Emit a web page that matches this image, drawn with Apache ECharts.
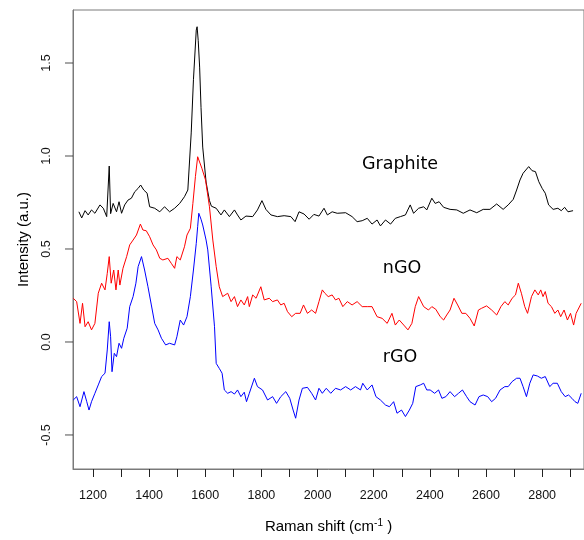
<!DOCTYPE html>
<html>
<head>
<meta charset="utf-8">
<script src="https://cdn.jsdelivr.net/npm/echarts@6/dist/echarts.min.js"></script>
<style>
  html, body { margin: 0; padding: 0; background: #fff; }
  #chart { width: 584px; height: 540px; }
</style>
</head>
<body>
<div id="chart"></div>
<script>
// Raman spectra, [shift (cm-1), intensity (a.u.)]
var graphite = [
  [1150,0.70],[1160,0.667],[1172,0.706],[1183,0.683],[1195,0.71],[1207,0.692],[1225,0.737],[1237,0.719],
  [1249,0.674],[1258,0.946],[1263,0.69],[1272,0.745],[1284,0.70],[1293,0.754],[1302,0.692],[1313,0.737],
  [1325,0.763],[1337,0.773],[1349,0.808],[1361,0.826],[1370,0.844],[1381,0.817],[1393,0.80],[1402,0.727],
  [1420,0.719],[1438,0.70],[1455,0.727],[1473,0.70],[1491,0.719],[1509,0.745],[1526,0.781],[1538,0.817],
  [1550,1.124],[1558,1.41],[1568,1.677],[1571,1.695],[1575,1.62],[1580,1.478],[1585,1.26],[1591,1.048],
  [1603,0.86],[1608,0.817],[1615,0.76],[1622,0.73],[1639,0.719],[1656,0.683],[1668,0.71],[1686,0.674],
  [1704,0.71],[1715,0.683],[1727,0.656],[1745,0.677],[1769,0.674],[1786,0.71],[1802,0.76],[1816,0.713],
  [1834,0.683],[1857,0.674],[1881,0.679],[1905,0.674],[1920,0.647],[1934,0.70],[1952,0.688],[1970,0.66],
  [1987,0.686],[2005,0.677],[2023,0.719],[2035,0.683],[2052,0.70],[2070,0.692],[2100,0.695],[2123,0.674],
  [2141,0.647],[2159,0.652],[2177,0.665],[2194,0.634],[2212,0.656],[2224,0.624],[2242,0.656],[2260,0.634],
  [2277,0.665],[2295,0.674],[2313,0.683],[2330,0.737],[2342,0.692],[2360,0.719],[2378,0.727],[2389,0.71],
  [2407,0.773],[2419,0.745],[2433,0.754],[2449,0.724],[2472,0.713],[2496,0.71],[2519,0.692],[2543,0.71],
  [2567,0.695],[2590,0.713],[2614,0.713],[2638,0.742],[2661,0.713],[2679,0.737],[2697,0.767],[2709,0.817],
  [2721,0.871],[2732,0.907],[2752,0.943],[2764,0.921],[2776,0.916],[2788,0.862],[2800,0.826],[2811,0.80],
  [2823,0.737],[2839,0.713],[2856,0.719],[2868,0.706],[2880,0.724],[2892,0.70],[2910,0.706]
];

var nGO = [
  [1130,0.235],[1142,0.217],[1154,0.10],[1163,0.208],[1172,0.082],[1183,0.109],[1195,0.065],[1207,0.10],
  [1219,0.262],[1231,0.316],[1243,0.28],[1251,0.369],[1258,0.459],[1265,0.316],[1274,0.387],[1282,0.28],
  [1290,0.387],[1296,0.306],[1307,0.396],[1320,0.459],[1331,0.522],[1343,0.548],[1355,0.575],[1369,0.634],
  [1378,0.602],[1390,0.598],[1402,0.566],[1414,0.522],[1426,0.495],[1438,0.45],[1449,0.441],[1467,0.45],
  [1479,0.423],[1491,0.396],[1499,0.459],[1511,0.441],[1526,0.512],[1535,0.575],[1547,0.611],[1556,0.745],
  [1565,0.889],[1573,0.996],[1576,0.99],[1588,0.934],[1591,0.925],[1601,0.871],[1615,0.727],[1627,0.548],
  [1639,0.405],[1650,0.297],[1662,0.244],[1680,0.262],[1692,0.217],[1704,0.244],[1715,0.19],[1727,0.226],
  [1739,0.199],[1751,0.244],[1757,0.19],[1769,0.253],[1781,0.235],[1798,0.297],[1810,0.226],[1828,0.235],
  [1840,0.217],[1857,0.226],[1869,0.199],[1881,0.208],[1893,0.163],[1908,0.136],[1922,0.154],[1938,0.154],
  [1950,0.199],[1964,0.154],[1979,0.172],[1993,0.154],[2005,0.217],[2017,0.28],[2026,0.262],[2038,0.244],
  [2052,0.253],[2064,0.226],[2076,0.235],[2090,0.19],[2106,0.217],[2123,0.199],[2141,0.217],[2159,0.19],
  [2177,0.19],[2194,0.19],[2212,0.136],[2230,0.127],[2248,0.10],[2265,0.154],[2277,0.091],[2291,0.118],
  [2307,0.091],[2322,0.065],[2336,0.10],[2348,0.19],[2360,0.244],[2366,0.244],[2378,0.19],[2395,0.172],
  [2407,0.19],[2421,0.176],[2437,0.136],[2449,0.118],[2460,0.145],[2472,0.172],[2486,0.235],[2499,0.199],
  [2514,0.154],[2528,0.154],[2543,0.127],[2558,0.086],[2573,0.172],[2584,0.181],[2602,0.194],[2620,0.172],
  [2638,0.145],[2653,0.19],[2667,0.217],[2679,0.199],[2693,0.235],[2705,0.253],[2715,0.316],[2726,0.262],
  [2738,0.19],[2748,0.154],[2762,0.244],[2774,0.28],[2786,0.253],[2795,0.28],[2803,0.244],[2811,0.271],
  [2821,0.208],[2833,0.19],[2845,0.154],[2856,0.172],[2866,0.136],[2878,0.172],[2890,0.118],[2901,0.154],
  [2912,0.091],[2921,0.154],[2939,0.208]
];

var rGO = [
  [1130,-0.312],[1142,-0.294],[1154,-0.348],[1168,-0.267],[1178,-0.321],[1186,-0.366],[1195,-0.321],[1207,-0.276],
  [1219,-0.231],[1231,-0.186],[1243,-0.168],[1251,-0.043],[1258,0.109],[1263,0.028],[1268,-0.16],[1276,-0.061],
  [1284,-0.079],[1293,-0.007],[1302,-0.034],[1310,0.02],[1322,0.074],[1331,0.19],[1343,0.244],[1353,0.316],
  [1361,0.405],[1373,0.459],[1384,0.387],[1396,0.297],[1408,0.199],[1420,0.10],[1432,0.065],[1444,0.02],
  [1459,-0.016],[1473,-0.007],[1491,-0.016],[1499,0.028],[1511,0.118],[1523,0.091],[1535,0.136],[1547,0.244],
  [1558,0.387],[1568,0.53],[1573,0.62],[1577,0.692],[1585,0.66],[1591,0.629],[1603,0.548],[1609,0.495],
  [1621,0.30],[1633,0.082],[1639,-0.115],[1650,-0.142],[1660,-0.168],[1668,-0.258],[1680,-0.276],[1692,-0.267],
  [1704,-0.28],[1715,-0.258],[1727,-0.294],[1739,-0.27],[1747,-0.321],[1757,-0.276],[1775,-0.195],[1786,-0.24],
  [1804,-0.258],[1822,-0.312],[1840,-0.294],[1854,-0.33],[1869,-0.294],[1887,-0.267],[1901,-0.303],[1913,-0.366],
  [1922,-0.41],[1934,-0.312],[1946,-0.249],[1964,-0.244],[1979,-0.276],[1993,-0.312],[2005,-0.249],[2017,-0.276],
  [2031,-0.249],[2047,-0.276],[2064,-0.249],[2082,-0.258],[2100,-0.24],[2118,-0.258],[2135,-0.24],[2153,-0.258],
  [2161,-0.222],[2177,-0.258],[2194,-0.231],[2208,-0.294],[2224,-0.312],[2242,-0.339],[2256,-0.348],[2271,-0.321],
  [2283,-0.383],[2299,-0.366],[2313,-0.401],[2327,-0.366],[2339,-0.33],[2350,-0.24],[2366,-0.231],[2378,-0.222],
  [2389,-0.258],[2401,-0.258],[2417,-0.276],[2431,-0.258],[2443,-0.303],[2457,-0.294],[2472,-0.267],[2488,-0.294],
  [2502,-0.276],[2516,-0.258],[2531,-0.294],[2543,-0.321],[2561,-0.339],[2575,-0.294],[2590,-0.285],[2606,-0.294],
  [2620,-0.321],[2634,-0.303],[2650,-0.258],[2667,-0.24],[2679,-0.24],[2693,-0.213],[2709,-0.195],[2721,-0.195],
  [2732,-0.24],[2744,-0.294],[2756,-0.222],[2768,-0.177],[2783,-0.183],[2797,-0.195],[2811,-0.186],[2827,-0.24],
  [2839,-0.222],[2854,-0.222],[2868,-0.267],[2882,-0.294],[2894,-0.285],[2906,-0.303],[2917,-0.321],[2927,-0.33],
  [2939,-0.276]
];

var xTicks = [1200,1300,1400,1500,1600,1700,1800,1900,2000,2100,2200,2300,2400,2500,2600,2700,2800,2900];
var xLabels = [1200,1400,1600,1800,2000,2200,2400,2600,2800];
var yTicks = [-0.5,0.0,0.5,1.0,1.5];
var xMin = 1129, xMax = 2949;

var chart = echarts.init(document.getElementById('chart'), null, { renderer: 'canvas' });

function lineSeries(name, data, color) {
  return {
    name: name,
    type: 'line',
    data: data,
    showSymbol: false,
    symbol: 'none',
    lineStyle: { color: color, width: 1 },
    silent: true
  };
}

var labelFont = '17.5px "DejaVu Sans"'

chart.setOption({
  animation: false,
  backgroundColor: '#fff',
  grid: {
    left: 73, top: 10, right: -2, bottom: 71,
    show: true, borderColor: '#7a7a7a', borderWidth: 1, backgroundColor: 'transparent'
  },
  xAxis: {
    type: 'value',
    min: xMin, max: xMax,
    name: '{a|Raman shift (cm}{s|-1}{a| )}',
    nameLocation: 'middle',
    nameGap: 49,
    nameTextStyle: {
      rich: {
        a: { fontFamily: 'Liberation Sans', fontSize: 15, color: '#000' },
        s: { fontFamily: 'Liberation Sans', fontSize: 10, color: '#000', verticalAlign: 'top', padding: [0, 0, 8, 0] }
      }
    },
    axisLine: { show: true, onZero: false, lineStyle: { color: '#7a7a7a' } },
    splitLine: { show: false },
    axisTick: { show: true, inside: false, length: 8, customValues: xTicks, lineStyle: { color: '#222' } },
    axisLabel: {
      customValues: xLabels,
      margin: 20,
      fontFamily: 'Liberation Sans', fontSize: 12.5, color: '#111',
      formatter: function (v) { return String(v); }
    }
  },
  yAxis: {
    type: 'value',
    min: -0.683, max: 1.785,
    name: 'Intensity (a.u.)',
    nameLocation: 'middle',
    nameGap: 42,
    nameTextStyle: { fontFamily: 'Liberation Sans', fontSize: 15, color: '#000' },
    axisLine: { show: true, onZero: false, lineStyle: { color: '#7a7a7a' } },
    splitLine: { show: false },
    axisTick: { show: false },
    axisLabel: {
      customValues: yTicks,
      rotate: 90,
      margin: 20,
      fontFamily: 'Liberation Sans', fontSize: 12.5, color: '#111',
      formatter: function (v) { return v.toFixed(1); }
    }
  },
  series: [
    lineSeries('Graphite', graphite, '#000000'),
    lineSeries('nGO', nGO, '#ff0000'),
    lineSeries('rGO', rGO, '#0000ff'),
    {
      // y tick marks: short dashes just left of the axis, placed by the y scale
      name: 'yTickMarks',
      type: 'scatter',
      data: yTicks.map(function (v) { return [xMin, v]; }),
      symbol: 'rect',
      symbolSize: [8, 1],
      symbolOffset: [-4, 0],
      itemStyle: { color: '#222' },
      clip: false,
      silent: true,
      z: 10
    }
  ],
  graphic: [
    { type: 'text', style: { x: 400, y: 164, text: 'Graphite', textAlign: 'center', textVerticalAlign: 'middle', font: labelFont, fill: '#000' } },
    { type: 'text', style: { x: 402, y: 268, text: 'nGO', textAlign: 'center', textVerticalAlign: 'middle', font: labelFont, fill: '#000' } },
    { type: 'text', style: { x: 400, y: 357, text: 'rGO', textAlign: 'center', textVerticalAlign: 'middle', font: labelFont, fill: '#000' } }
  ]
});
</script>
</body>
</html>
